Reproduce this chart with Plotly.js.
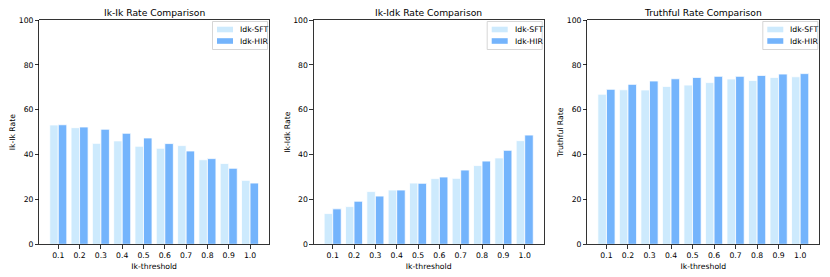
<!DOCTYPE html>
<html>
<head>
<meta charset="utf-8">
<script src="https://cdn.plot.ly/plotly-3.0.1.min.js"></script>
<style>html,body{margin:0;padding:0;background:#fff;}#chart{width:830px;height:277px;}</style>
</head>
<body>
<div id="chart"></div>
<script>
const thresholds = ["0.1","0.2","0.3","0.4","0.5","0.6","0.7","0.8","0.9","1.0"];
const ikIkSFT = [53.2, 52.0, 45.0, 46.1, 43.7, 42.8, 44.0, 37.7, 36.0, 28.5];
const ikIkHIR = [53.3, 52.3, 51.3, 49.5, 47.4, 44.9, 41.6, 38.2, 33.9, 27.3];
const ikIdkSFT = [13.7, 16.8, 23.5, 24.2, 27.3, 29.3, 29.4, 35.1, 38.5, 46.2];
const ikIdkHIR = [15.8, 19.2, 21.5, 24.2, 27.2, 30.0, 33.1, 37.1, 41.9, 48.7];
const truthSFT = [66.9, 68.9, 68.8, 70.4, 71.0, 72.1, 73.7, 73.0, 74.4, 74.7];
const truthHIR = [69.1, 71.3, 72.8, 73.8, 74.4, 74.9, 74.9, 75.3, 75.9, 76.1];
const seriesNames = ["Idk-SFT", "Idk-HIR"];
const panelTitles = ["Ik-Ik Rate Comparison", "Ik-Idk Rate Comparison", "Truthful Rate Comparison"];
const yTitles = ["Ik-Ik Rate", "Ik-Idk Rate", "Truthful Rate"];
const xTitle = "Ik-threshold";
const yTicks = [0, 20, 40, 60, 80, 100];

const colSFT = "#cdeafd", colHIR = "#74b4fc";
const FONT = "DejaVu Sans, sans-serif";
const W = 830, H = 277;
const panels = [[39.3, 269.0], [313.7, 543.7], [587.3, 819.3]];
const yTop = 20, yBot = 244.3;
const dataSets = [[ikIkSFT, ikIkHIR], [ikIdkSFT, ikIdkHIR], [truthSFT, truthHIR]];

const traces = [];
const layout = {
  width: W, height: H,
  margin: {l: 0, r: 0, t: 0, b: 0},
  paper_bgcolor: "#fff", plot_bgcolor: "#fff",
  barmode: "group", bargap: 0.2, bargroupgap: 0,
  showlegend: false,
  font: {family: FONT, size: 7.7, color: "#000"},
  annotations: [], shapes: []
};
const px = v => v / W, py = v => (H - v) / H;

dataSets.forEach((ds, i) => {
  const suf = i === 0 ? "" : String(i + 1);
  [colSFT, colHIR].forEach((c, j) => {
    traces.push({
      type: "bar", x: thresholds, y: ds[j], name: seriesNames[j],
      xaxis: "x" + suf, yaxis: "y" + suf,
      marker: {color: c, line: {color: "#fff", width: 0.8}},
      hoverinfo: "skip"
    });
  });
  const [x0, x1] = panels[i];
  layout["xaxis" + suf] = {
    domain: [px(x0), px(x1)], anchor: "y" + suf, type: "category",
    range: [-0.89, 9.89], showline: true, mirror: true, linecolor: "#000", linewidth: 0.8,
    ticks: "outside", ticklen: 3.5, tickwidth: 0.8, tickcolor: "#000",
    showgrid: false, zeroline: false, tickfont: {family: FONT, size: 7.7},
    title: {text: xTitle, font: {family: FONT, size: 7.7}, standoff: 4}
  };
  layout["yaxis" + suf] = {
    domain: [py(yBot), py(yTop)], anchor: "x" + suf,
    range: [0, 100], tickvals: yTicks, showline: true, mirror: true, linecolor: "#000", linewidth: 0.8,
    ticks: "outside", ticklen: 3.5, tickwidth: 0.8, tickcolor: "#000",
    showgrid: false, zeroline: false, tickfont: {family: FONT, size: 7.7},
    title: {text: yTitles[i], font: {family: FONT, size: 7.7}, standoff: 1}
  };
  layout.annotations.push({
    text: panelTitles[i], xref: "paper", yref: "paper",
    x: px((x0 + x1) / 2), y: py(12.5), xanchor: "center", yanchor: "middle",
    showarrow: false, font: {family: FONT, size: 9.2, color: "#000"}
  });
  // legend box (drawn manually for matplotlib-like compactness)
  layout.shapes.push({
    type: "rect", xref: "paper", yref: "paper",
    x0: px(x1 - 56.5), x1: px(x1 - 1.5), y0: py(49.5), y1: py(21.5),
    fillcolor: "rgba(255,255,255,0.8)", line: {color: "#cccccc", width: 0.8}
  });
  [colSFT, colHIR].forEach((c, j) => {
    const cy = 29.5 + j * 11.5;
    layout.shapes.push({
      type: "rect", xref: "paper", yref: "paper",
      x0: px(x1 - 52), x1: px(x1 - 36), y0: py(cy + 2.8), y1: py(cy - 2.8),
      fillcolor: c, line: {width: 0}
    });
    layout.annotations.push({
      text: seriesNames[j], xref: "paper", yref: "paper",
      x: px(x1 - 31), y: py(cy), xanchor: "left", yanchor: "middle",
      showarrow: false, font: {family: FONT, size: 7.7, color: "#000"}
    });
  });
});

Plotly.newPlot("chart", traces, layout, {staticPlot: true, displayModeBar: false});
</script>
</body>
</html>
